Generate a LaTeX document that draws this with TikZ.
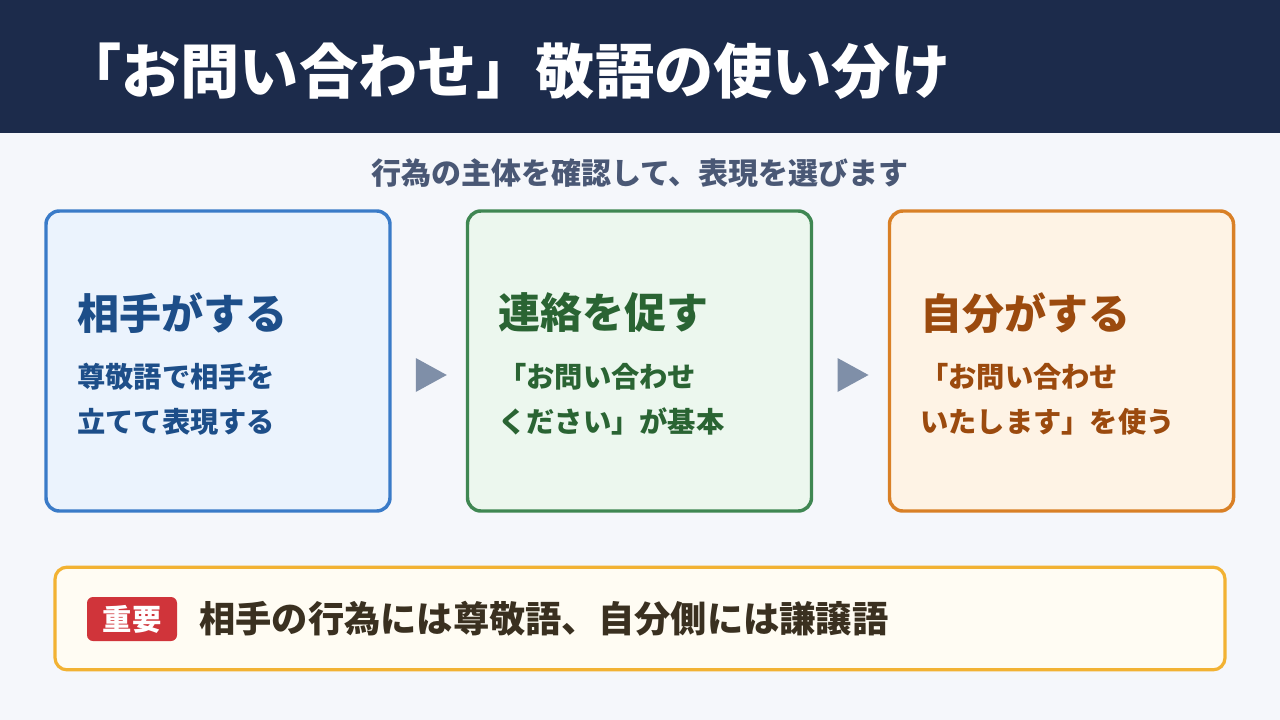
\documentclass[tikz,border=0pt]{standalone}
\usepackage{fontspec}
\setmainfont{Noto Sans CJK JP}
\usetikzlibrary{calc}

\definecolor{headbg}{HTML}{1C2B4B}
\definecolor{pagebg}{HTML}{F5F7FB}
\definecolor{subgray}{HTML}{4A5875}
\definecolor{blueline}{HTML}{3A7BC8}
\definecolor{bluefill}{HTML}{EBF3FD}
\definecolor{bluetext}{HTML}{1D4E89}
\definecolor{greenline}{HTML}{3F8752}
\definecolor{greenfill}{HTML}{ECF7EE}
\definecolor{greentext}{HTML}{2A6433}
\definecolor{orangeline}{HTML}{D98026}
\definecolor{orangefill}{HTML}{FEF3E5}
\definecolor{orangetext}{HTML}{9B4A0E}
\definecolor{arrowgray}{HTML}{7F8FA8}
\definecolor{noteline}{HTML}{F2B233}
\definecolor{notefill}{HTML}{FFFCF3}
\definecolor{notetext}{HTML}{3A3020}
\definecolor{badgered}{HTML}{D0343A}

\begin{document}
\begin{tikzpicture}[x=0.75pt,y=-0.75pt,
  card/.style={rectangle, rounded corners=10pt, line width=2.6pt,
    minimum width=258pt, minimum height=225pt, inner sep=0pt},
  head/.style={anchor=west, inner sep=0pt, font=\fontsize{31.5}{31.5}\selectfont\bfseries},
  body/.style={anchor=north west, inner sep=0pt, align=left,
    font=\fontsize{21.2}{33.5}\selectfont\bfseries},
  tri/.style={fill=arrowgray}]
 \useasboundingbox (0,0) rectangle (1280,720);
 \fill[pagebg] (0,0) rectangle (1280,720);
 \fill[headbg] (0,0) rectangle (1280,133);
 \node (title) [anchor=west, inner sep=0pt, text=white,
   font=\fontsize{44.4}{44.4}\selectfont\bfseries] at (62,71) {「お問い合わせ」敬語の使い分け};
 \node (sub) [text=subgray, font=\fontsize{22.5}{22.5}\selectfont\bfseries] at (640,173)
   {行為の主体を確認して、表現を選びます};

 % three cards
 \node (b1) [card, draw=blueline, fill=bluefill] at (218,361) {};
 \node (b2) [card, draw=greenline, fill=greenfill] at (639.5,361) {};
 \node (b3) [card, draw=orangeline, fill=orangefill] at (1061.5,361) {};

 \node (h1) [head, text=bluetext] at (77,313) {相手がする};
 \node (d1) [body, text=bluetext] at (77,363) {尊敬語で相手を\\立てて表現する};
 \node (h2) [head, text=greentext] at (498,313) {連絡を促す};
 \node (d2) [body, text=greentext] at (498,363) {「お問い合わせ\\ください」が基本};
 \node (h3) [head, text=orangetext] at (920,313) {自分がする};
 \node (d3) [body, text=orangetext] at (920,363) {「お問い合わせ\\いたします」を使う};

 \coordinate (m1) at ($(b1.east)!.5!(b2.west)+(2,14)$);
 \coordinate (m2) at ($(b2.east)!.5!(b3.west)+(2,14)$);
 \foreach \m in {m1,m2}
   \fill[tri] ($(\m)+(-15,-17)$) -- ($(\m)+(16,0)$) -- ($(\m)+(-15,17)$) -- cycle;

 % note at the bottom
 \node (note) [rectangle, rounded corners=9pt, line width=2.4pt, draw=noteline,
   fill=notefill, minimum width=877.5pt, minimum height=77pt] at (640,618.5) {};
 \node (imp) [rectangle, rounded corners=4.5pt, fill=badgered, text=white,
   minimum width=67.5pt, minimum height=33pt, inner sep=0pt,
   font=\fontsize{22}{22}\selectfont\bfseries] at (132,619) {重要};
 \node (msg) [anchor=west, inner sep=0pt, text=notetext,
   font=\fontsize{27.2}{27.2}\selectfont\bfseries] at (199,619)
   {相手の行為には尊敬語、自分側には謙譲語};
\end{tikzpicture}
\end{document}
